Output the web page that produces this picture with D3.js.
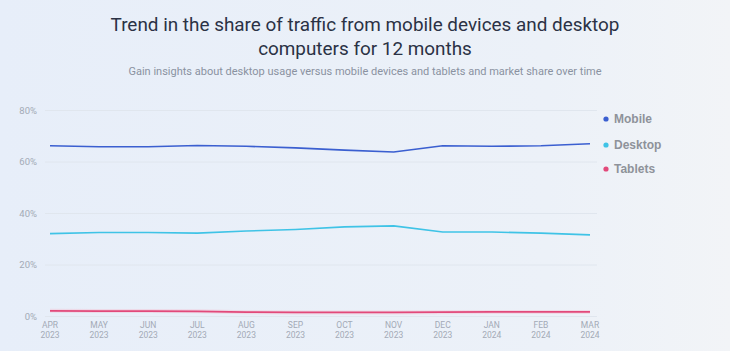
<!DOCTYPE html>
<html><head><meta charset="utf-8">
<script src="https://cdn.jsdelivr.net/npm/d3@7"></script>
<style>body{margin:0;padding:0;overflow:hidden}svg{display:block}</style>
</head><body>
<script>
const months = ["APR","MAY","JUN","JUL","AUG","SEP","OCT","NOV","DEC","JAN","FEB","MAR"];
const years = ["2023","2023","2023","2023","2023","2023","2023","2023","2023","2024","2024","2024"];
const mobile = [66.1,65.7,65.7,66.2,65.9,65.3,64.4,63.7,66.1,65.9,66.1,66.9];
const desktop = [32.0,32.4,32.4,32.2,33.0,33.6,34.6,35.0,32.6,32.6,32.2,31.5];
const tablets = [2.0,1.9,1.9,1.8,1.5,1.4,1.4,1.4,1.5,1.6,1.6,1.6];
const yTicks = [0,20,40,60,80];
const seriesNames = ["Mobile","Desktop","Tablets"];
const colors = ["#3b5fd0","#3fc3e6","#e2497a"];

const W=730,H=351;
const svg=d3.select("body").append("svg").attr("width",W).attr("height",H);
const defs=svg.append("defs");
const g=defs.append("linearGradient").attr("id","bg").attr("x1","0").attr("y1","0").attr("x2","1").attr("y2","0");
g.append("stop").attr("offset","0").attr("stop-color","#e7eef9");
g.append("stop").attr("offset","0.75").attr("stop-color","#ecf1f8");
g.append("stop").attr("offset","1").attr("stop-color","#f2f4f7");
svg.append("rect").attr("width",W).attr("height",H).attr("fill","url(#bg)");

const x=d3.scalePoint().domain(d3.range(12)).range([50,590]);
const y=d3.scaleLinear().domain([0,80]).range([316,110]);

// title
svg.append("text").attr("x",365).attr("y",31).attr("text-anchor","middle")
  .attr("font-family","Roboto").attr("font-size",18.9).attr("fill","#2b3245")
  .text("Trend in the share of traffic from mobile devices and desktop");
svg.append("text").attr("x",365).attr("y",55).attr("text-anchor","middle")
  .attr("font-family","Roboto").attr("font-size",18.9).attr("fill","#2b3245")
  .text("computers for 12 months");
svg.append("text").attr("x",365).attr("y",75).attr("text-anchor","middle")
  .attr("font-family","Roboto").attr("font-size",11).attr("fill","#8a92a1")
  .text("Gain insights about desktop usage versus mobile devices and tablets and market share over time");

// grid
const yAxis=d3.axisLeft(y).tickValues(yTicks).tickSize(-552).tickFormat(d=>d+"%");
const ga=svg.append("g").attr("transform","translate(45,0)").call(yAxis);
ga.select(".domain").remove();
ga.selectAll(".tick line").attr("stroke","#e0e6ee").attr("stroke-width",1);
ga.selectAll(".tick text").attr("x",-8).attr("font-family","Roboto").attr("font-size",9.5).attr("fill","#a3aab6");

// x axis
const xa=svg.append("g");
months.forEach((m,i)=>{
  const t=xa.append("text").attr("x",x(i)).attr("text-anchor","middle")
    .attr("font-family","Roboto").attr("font-size",8.5).attr("fill","#a3aab6");
  t.append("tspan").attr("x",x(i)).attr("y",328).text(m);
  t.append("tspan").attr("x",x(i)).attr("y",338).text(years[i]);
});

// lines
const line=d3.line().x((d,i)=>x(i)).y(d=>y(d)).curve(d3.curveLinear);
svg.append("path").datum(tablets).attr("d",line).attr("fill","none")
  .attr("stroke","#f5b8cc").attr("stroke-width",4).attr("stroke-opacity",0.4);
[mobile,desktop,tablets].forEach((s,k)=>{
  svg.append("path").datum(s).attr("d",line).attr("fill","none")
    .attr("stroke",colors[k]).attr("stroke-width",k==2?1.8:1.6).attr("stroke-linejoin","round");
});

// legend
const ly=[119,145,169];
seriesNames.forEach((n,k)=>{
  svg.append("circle").attr("cx",606).attr("cy",ly[k]).attr("r",2.6).attr("fill",colors[k]);
  svg.append("text").attr("x",614).attr("y",ly[k]+4.3).attr("font-family","Liberation Sans, Arial")
    .attr("font-weight","bold").attr("font-size",12).attr("fill","#8e929a").text(n);
});
</script>
</body></html>
